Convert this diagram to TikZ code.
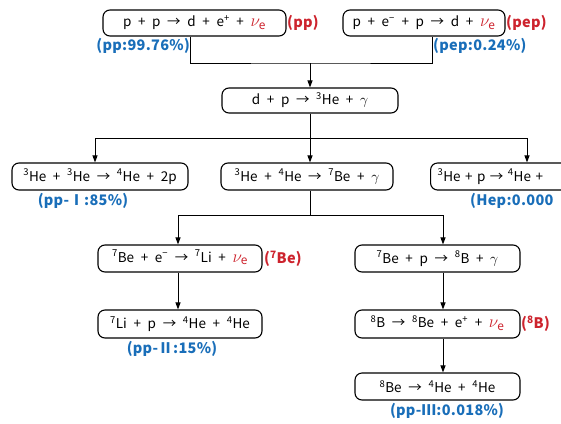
\documentclass[tikz,border=0pt]{standalone}
\usepackage{fontspec}
\setmainfont{Noto Sans CJK JP}
\newfontfamily\rxnfont{Noto Sans CJK JP}[WordSpace=2.2]
\newfontfamily\labfont{Noto Sans CJK JP}[LetterSpace=2]
\usetikzlibrary{arrows.meta}
\definecolor{lblblue}{RGB}{25,110,185}
\definecolor{lblred}{RGB}{205,35,45}
\newcommand{\nue}{\textcolor{lblred}{\fontsize{17}{17}\selectfont$\nu_{\mathrm{e}}$}}
\newcommand{\sps}[1]{\textsuperscript{#1}}
\tikzset{
  rxn/.style={draw, line width=1.1pt, rounded corners=7pt, minimum height=26pt, inner sep=2pt, font=\rxnfont\fontsize{13.5}{15}\selectfont},
  conn/.style={line width=1pt},
  arr/.style={conn, -{Triangle[length=7pt,width=5pt]}},
  blab/.style={text=lblblue, font=\labfont\bfseries\fontsize{14.5}{16}\selectfont, inner sep=0pt},
  rlab/.style={text=lblred, font=\labfont\bfseries\fontsize{14.5}{16}\selectfont, inner sep=0pt}
}
\begin{document}
\begin{tikzpicture}[x=1pt,y=-1pt]
\useasboundingbox (0,0) rectangle (561,423);
% row 1
\node[rxn, minimum width=183pt, text height=11pt, text depth=4pt] (b1) at (194.5,23) {p + p → d + e\sps{+} + \nue};
\node[rlab, anchor=west] (r1) at (287,23) {(pp)};
\node[rxn, minimum width=162pt, text height=11pt, text depth=4pt] (b2) at (424,23) {p + e\sps{−} + p → d + \nue};
\node[rlab, anchor=west] (r2) at (506,23) {(pep)};
\node[blab, anchor=east] (l1) at (190,46) {(pp:99.76\%)};
\node[blab, anchor=west] (l2) at (433,46) {(pep:0.24\%)};
% row 2
\node[rxn, minimum width=176pt, minimum height=25pt] (b3) at (310,100.5) {d + p → \sps{3}He + $\gamma$};
% row 3
\node[rxn, minimum width=176pt, minimum height=27pt] (b4a) at (100,176.5) {\sps{3}He + \sps{3}He → \sps{4}He + 2p};
\node[rxn, minimum width=172pt, minimum height=27pt] (b4b) at (307,176.5) {\sps{3}He + \sps{4}He → \sps{7}Be + $\gamma$};
\node[rxn, minimum width=180pt, minimum height=27pt, anchor=west, text width=166pt, align=left] (b4c) at (430,176.5) {\sps{3}He + p → \sps{4}He +};
\node[blab] (l4a) at (83,201) {(pp-Ⅰ:85\%)};
\node[blab, anchor=west] (l4c) at (470,201) {(Hep:0.000};
% row 4
\node[rxn, minimum width=164pt, minimum height=27pt, text height=11pt, text depth=4pt] (b5a) at (180,258.5) {\sps{7}Be + e\sps{−} → \sps{7}Li + \nue};
\node[rlab, anchor=west] (r5a) at (264,258.5) {(\sps{7}Be)};
\node[rxn, minimum width=165pt, minimum height=27pt] (b5b) at (437.5,258.5) {\sps{7}Be + p → \sps{8}B + $\gamma$};
% row 5
\node[rxn, minimum width=164pt, minimum height=28pt] (b6a) at (180,324) {\sps{7}Li + p → \sps{4}He + \sps{4}He};
\node[blab] (l6a) at (172,349) {(pp-Ⅱ:15\%)};
\node[rxn, minimum width=165pt, minimum height=28pt, text height=11pt, text depth=4pt] (b6b) at (437.5,324) {\sps{8}B → \sps{8}Be + e\sps{+} + \nue};
\node[rlab, anchor=west] (r6b) at (521,324) {(\sps{8}B)};
% row 6
\node[rxn, minimum width=165pt, minimum height=27pt] (b7) at (437.5,386.5) {\sps{8}Be → \sps{4}He + \sps{4}He};
\node[blab] (l7) at (447,411) {(pp-Ⅲ:0.018\%)};
% connectors
\coordinate (m1) at (310,63);
\coordinate (m2) at (310,138);
\coordinate (m3) at (310,215);
\draw[conn] ([xshift=-4.5pt]b1.south) |- (m1) -| ([xshift=8pt]b2.south);
\draw[arr] (m1) -- (b3.north);
\draw[conn] (b3.south) -- (m2);
\draw[arr] (m2) -| ([xshift=-5pt]b4a.north);
\draw[arr] (m2) -- ([xshift=3pt]b4b.north);
\draw[arr] (m2) -| ([xshift=12pt]b4c.north -| 515,0);
\draw[conn] ([xshift=3pt]b4b.south) -- (m3);
\draw[arr] (m3) -| ([xshift=-2pt]b5a.north);
\draw[arr] (m3) -| ([xshift=5.5pt]b5b.north);
\draw[arr] ([xshift=-2pt]b5a.south) -- ([xshift=-2pt]b6a.north);
\draw[arr] ([xshift=5.5pt]b5b.south) -- ([xshift=5.5pt]b6b.north);
\draw[arr] ([xshift=5.5pt]b6b.south) -- ([xshift=5.5pt]b7.north);
\end{tikzpicture}
\end{document}
